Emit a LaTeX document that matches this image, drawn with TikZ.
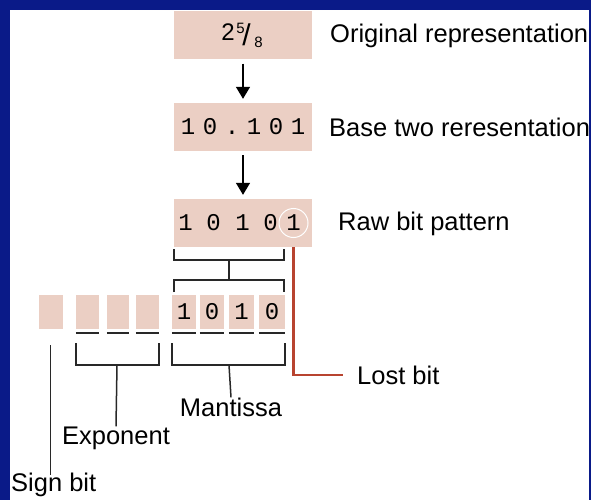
\documentclass[tikz,border=0pt]{standalone}
\usepackage{fontspec}
\setmainfont{Liberation Sans}
\setmonofont{Liberation Mono}
\usetikzlibrary{arrows.meta}

\definecolor{slideblue}{RGB}{10,26,136}
\definecolor{bitpink}{RGB}{235,207,196}
\definecolor{lostred}{RGB}{184,68,48}
\definecolor{linegray}{RGB}{40,40,40}

\tikzset{
  stagebox/.style={fill=bitpink, minimum width=138pt, minimum height=48pt, inner sep=0pt},
  bitcell/.style={fill=bitpink, minimum width=24pt, minimum height=34pt, inner sep=0pt,
    font=\fontsize{24}{24}\selectfont\ttfamily},
  digit/.style={inner sep=0pt, anchor=base, font=\fontsize{24}{24}\selectfont\ttfamily},
  frac/.style={inner sep=0pt, anchor=base, font=\fontsize{#1}{#1}\selectfont},
  caption/.style={inner sep=0pt, font=\fontsize{25.5}{29}\selectfont},
  brack/.style={draw=linegray, line width=1.5pt},
  flow/.style={draw=black, line width=1.5pt, shorten <=4pt, shorten >=4pt,
    -{Triangle[width=14pt,length=12pt]}},
}

\begin{document}
\begin{tikzpicture}[x=1pt, y=-1pt]

% Slide background
\useasboundingbox (0,0) rectangle (591,500);
\fill[slideblue] (0,0) rectangle (591,500);
\fill[white] (10,10) rectangle (589,500);

% Three stages of the number
\node[stagebox] (orig) at (243, 35.5) {};
\node[frac=24] (whole) at (228, 40.5) {2};
\node[frac=15] (numer) at (240.5, 33.5) {5};
\node[frac=30] (slash) at (246.5, 45.5) {/};
\node[frac=15] (denom) at (258.5, 47.5) {8};
\node[stagebox] (base) at (243, 127) {};
\node[stagebox] (raw) at (243, 223) {};

% Digits of the base two form
\foreach \ch [count=\i] in {1,0,.,1,0,1}
  \node[digit] (b\i) at (188 + 22*\i - 22, 134.5) {\ch};

% Digits of the raw bit pattern
\node[digit] (r1) at (185.5, 230.5) {1};
\node[digit] (r2) at (213.5, 230.5) {0};
\node[digit] (r3) at (242.5, 230.5) {1};
\node[digit] (r4) at (270.5, 230.5) {0};
\node[digit] (r5) at (293.5, 230.5) {1};
\node[circle, draw=white, line width=1pt, minimum size=29pt, inner sep=0pt] (lost) at (293.5, 223) {};

% Captions
\node[caption, anchor=west] (origlbl) at (330, 36) {Original representation};
\node[caption, anchor=west] (baselbl) at (329, 127) {Base two reresentation};
\node[caption, anchor=west] (rawlbl) at (338, 224) {Raw bit pattern};

% Arrows between the stages
\draw[flow] (orig) -- (base);
\draw[flow] (base) -- (raw);

% Storage cells
\node[bitcell] (s) at (50.5, 312) {};
\node[bitcell, minimum width=23pt] (e1) at (87.5, 312) {};
\node[bitcell, minimum width=22pt] (e2) at (118, 312) {};
\node[bitcell, minimum width=23pt] (e3) at (147.5, 312) {};
\node[bitcell] (m1) at (184, 312) {1};
\node[bitcell] (m2) at (212, 312) {0};
\node[bitcell, minimum width=25pt] (m3) at (241.5, 312) {1};
\node[bitcell, minimum width=26pt] (m4) at (272, 312) {0};

% Underlines of exponent and mantissa cells
\foreach \c in {e1,e2,e3,m1,m2,m3,m4}
  \draw[linegray, line width=1.8pt] ([yshift=-4pt]\c.south west) -- ([yshift=-4pt]\c.south east);

% Brackets from the raw pattern to the mantissa
\coordinate (tl) at (174, 249);
\coordinate (tr) at (284, 249);
\coordinate (tm) at (229, 260);
\coordinate (bm) at (229, 280);
\draw[brack] (tl) -- (tl |- tm) -- (tr |- tm) -- (tr);
\draw[brack] (tm) -- (bm);
\draw[brack] (tl |- bm) ++(0,12) -- (tl |- bm) -- (tr |- bm) -- ++(0,12);

% Field labels
\node[caption] (mantlbl) at (231, 407) {Mantissa};
\node[caption] (explbl) at (116, 438) {Exponent};
\node[caption, anchor=west] (signlbl) at (11, 485) {Sign bit};

% Field brackets
\draw[brack] ([yshift=-14pt]e1.south west) -- ++(0,22) -| ([yshift=-14pt]e3.south east);
\draw[brack] (117, 365) -- (explbl.north);
\draw[brack] ([yshift=-14pt]m1.south west) -- ++(0,22) -| ([yshift=-14pt]m4.south east);
\draw[brack] (229, 365) -- (mantlbl.north);
\draw[brack] ([yshift=-16pt]s.south) -- ([yshift=-2pt]signlbl.north -| s.south);

% Lost bit
\node[caption, anchor=west] (lostlbl) at (357, 375) {Lost bit};
\draw[lostred, line width=2.2pt] (lost.center |- raw.south) |- ([xshift=-14pt]lostlbl.west);

\end{tikzpicture}
\end{document}
